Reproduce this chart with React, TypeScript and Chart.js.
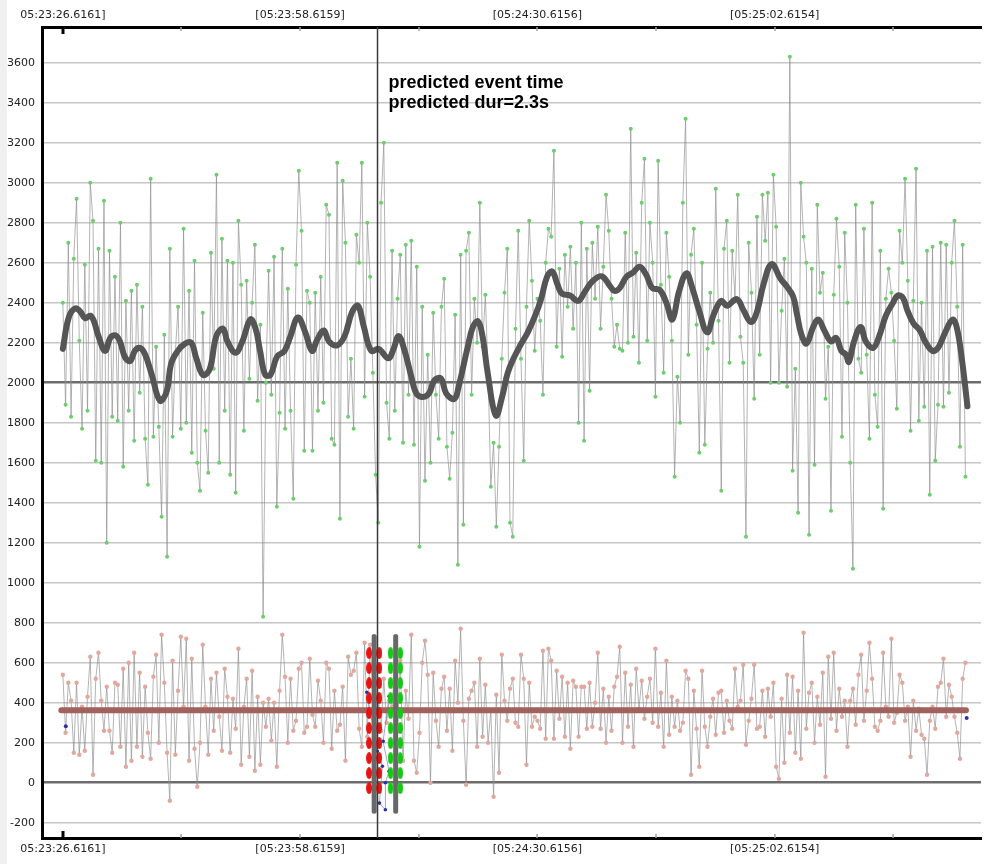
import { useEffect, useRef } from "react";
import { Chart, registerables } from "chart.js";

Chart.register(...registerables);

// seconds between two samples of the noisy series
const sampleStep = 0.37;

const xLabelSeconds = [0, 32, 64, 96];
const xLabels = ["05:23:26.6161]", "[05:23:58.6159]", "[05:24:30.6156]", "[05:25:02.6154]"];
const minorTickSeconds = [0, 16, 32, 48, 64, 80, 96, 112];

const greenValues = [
  2400, 1890, 2700, 1830, 2620, 2920, 2210, 1770, 2590, 1860,
  3000, 2810, 1610, 2670, 1600, 2910, 1200, 2660, 1830, 2530,
  1810, 2800, 1580, 2410, 1860, 2460, 1710, 2490, 1950, 2380,
  1720, 1490, 3020, 1730, 2180, 1780, 1330, 2240, 1130, 2670,
  1730, 2150, 2380, 1770, 2770, 1800, 2460, 1650, 2610, 1600,
  1460, 2350, 1760, 1550, 2650, 2070, 3040, 1600, 2720, 1860,
  2610, 1540, 2600, 1450, 2810, 2490, 1760, 2510, 2020, 2400,
  2690, 1910, 2290, 830, 2000, 2560, 1940, 2630, 1380, 1850,
  2670, 1770, 2470, 1860, 1420, 2590, 3060, 2760, 1660, 2460,
  2400, 1660, 2450, 1860, 2530, 1900, 2890, 2840, 1720, 1690,
  3100, 1320, 3010, 2700, 1830, 2120, 1770, 2740, 2600, 3100,
  1930, 2800, 2530, 2050, 1540, 1300, 2900, 3200, 1900, 1720,
  2660, 1860, 2420, 2640, 1700, 2690, 1940, 2710, 1690, 2580,
  1180, 2380, 1510, 2140, 1600, 2350, 1940, 1720, 2380, 2520,
  1680, 1520, 1750, 2340, 1090, 2640, 1290, 2660, 2750, 1940,
  2420, 2200, 2900, 2180, 2440, 2050, 1480, 1700, 1280, 1680,
  2120, 2450, 2670, 1300, 1230, 2270, 2760, 2120, 1610, 2380,
  2810, 2510, 2160, 2420, 2310, 1940, 2600, 2770, 2730, 3160,
  2180, 2570, 2130, 2640, 2380, 2680, 2270, 2600, 1800, 2800,
  1710, 2670, 1960, 2700, 2420, 2780, 2270, 2580, 2940, 2760,
  2420, 2180, 2290, 2170, 2160, 2750, 2200, 3270, 2230, 2650,
  2100, 2900, 3120, 2210, 2800, 2600, 1930, 3110, 2490, 2050,
  2750, 2530, 2210, 1530, 2030, 1800, 2900, 3320, 2140, 2640,
  2770, 2290, 1650, 2600, 1690, 2170, 2450, 2200, 2970, 2310,
  1460, 2670, 2810, 2100, 2660, 2420, 2940, 2230, 2100, 1230,
  2700, 2450, 1920, 2830, 2140, 2940, 2710, 2950, 2000, 3040,
  2780, 2000, 2360, 2620, 1980, 3630, 1560, 2070, 1350, 3000,
  2730, 2600, 1240, 2570, 1590, 2890, 2450, 2550, 1920, 2180,
  1360, 2440, 2820, 2580, 1730, 2750, 2400, 1600, 1070, 2890,
  2120, 2050, 2770, 2140, 1720, 2900, 1940, 1780, 2660, 1370,
  2420, 2570, 2450, 2210, 1870, 2760, 2600, 3020, 2510, 1760,
  2410, 3070, 1810, 2400, 1880, 2660, 1440, 2680, 1610, 1890,
  2700, 1880, 2690, 1950, 2600, 2810, 2380, 1680, 2690, 1530,
];

const pinkValues = [
  540, 250, 500, 410, 150, 500, 140, 380, 160, 430,
  630, 40, 520, 650, 410, 260, 480, 260, 150, 500,
  490, 180, 570, 80, 600, 110, 650, 180, 550, 130,
  480, 250, 120, 530, 640, 200, 740, 500, 150, -90,
  610, 140, 460, 730, 380, 720, 110, 620, 170, -20,
  200, 690, 380, 140, 520, 260, 550, 330, 160, 570,
  430, 150, 420, 270, 670, 90, 380, 520, 130, 560,
  60, 430, 90, 400, 280, 420, 210, 400, 80, 460,
  740, 530, 200, 520, 260, 310, 570, 600, 250, 280,
  620, 340, 280, 510, 410, 200, 600, 570, 170, 460,
  260, 290, 480, 110, 630, 540, 560, 650, 270, 180,
  700, 230, 690, 480, 170, 420, 260, 520, 300, 410,
  380, 580, 260, 610, 110, 460, 320, 740, 110, 50,
  250, 600, 710, 540, 0, 550, 310, 180, 470, 530,
  260, 470, 160, 610, 400, 770, 310, -10, 420, 460,
  500, 180, 620, 230, 490, 200, 360, -70, 440, 50,
  640, 410, 310, 470, 520, 300, 280, 640, 520, 90,
  500, 280, 330, 310, 270, 660, 220, 670, 610, 220,
  560, 320, 530, 230, 500, 170, 510, 480, 230, 480,
  480, 270, 500, 280, 400, 650, 270, 470, 200, 430,
  260, 480, 530, 680, 200, 550, 280, 490, 180, 570,
  370, 510, 320, 430, 520, 300, 670, 280, 450, 180,
  610, 240, 430, 280, 410, 260, 300, 560, 520, 40,
  460, 270, 80, 560, 280, 180, 330, 420, 240, 450,
  460, 250, 410, 310, 270, 570, 380, 410, 590, 190,
  310, 420, 590, 270, 280, 460, 230, 470, 330, 500,
  80, 20, 420, 100, 540, 250, 530, 150, 460, 120,
  750, 270, 450, 500, 200, 430, 290, 550, 30, 630,
  320, 650, 260, 470, 330, 410, 180, 410, 470, 290,
  540, 640, 310, 460, 700, 520, 280, 260, 310, 650,
  380, 330, 720, 300, 350, 540, 500, 310, 380, 130,
  410, 260, 370, 240, 220, 40, 310, 380, 270, 480,
  500, 620, 330, 490, 430, 330, 250, 120, 520, 600,
];

// moving average, read at irregular times
const smoothT = [
  0, 0.8, 1.7, 2.4, 3.0, 3.7, 4.2, 4.8, 5.7, 6.4, 7.1, 7.7, 8.4, 9.1, 9.7, 10.4,
  11.1, 12.0, 13.1, 14.0, 14.6, 15.5, 16.4, 17.3, 18.0, 18.9, 19.8, 20.7, 21.6,
  22.2, 23.3, 24.2, 25.3, 26.0, 26.6, 27.3, 28.0, 28.9, 29.9, 30.7, 31.7, 32.7,
  33.6, 34.3, 35.2, 35.9, 37.0, 38.0, 39.0, 39.8, 40.6, 41.6, 42.6, 43.9, 44.6,
  45.3, 46.1, 47.0, 47.7, 48.6, 49.4, 50.1, 51.0, 51.7, 52.8, 53.4, 54.6, 55.3,
  56.0, 56.6, 57.3, 58.4, 59.3, 60.0, 60.8, 61.7, 62.7, 63.7, 64.5, 65.3, 66.0,
  66.7, 67.3, 68.4, 69.5, 70.4, 71.5, 72.7, 73.8, 74.4, 75.1, 76.0, 76.9, 77.8,
  78.7, 79.5, 80.5, 81.4, 82.2, 83.1, 84.1, 84.9, 85.8, 86.9, 87.8, 88.8, 89.6,
  90.9, 91.8, 92.8, 93.6, 94.5, 95.6, 96.8, 97.6, 98.5, 99.0, 99.6, 100.3, 101.2,
  101.9, 102.7, 103.6, 104.3, 105.0, 105.6, 106.0, 106.7, 107.6, 108.3, 109.3,
  110.1, 111.0, 111.9, 112.6, 113.3, 113.9, 114.7, 115.6, 116.3, 117.3, 118.1,
  119.0, 120.0, 120.6, 121.3, 122.0,
];
const smoothV = [
  2169, 2326, 2372, 2353, 2322, 2335, 2307, 2233, 2159, 2224, 2237, 2206, 2126, 2108, 2159, 2174,
  2141, 2039, 1910, 1956, 2095, 2159, 2193, 2200, 2122, 2039, 2067, 2233, 2270,
  2206, 2150, 2206, 2316, 2270, 2159, 2039, 2039, 2131, 2159, 2233, 2326, 2252,
  2159, 2215, 2261, 2206, 2187, 2233, 2353, 2385, 2279, 2159, 2169, 2122, 2169,
  2233, 2159, 2030, 1945, 1929, 1947, 2011, 2021, 1947, 1919, 1984, 2178, 2279,
  2307, 2233, 2049, 1836, 1938, 2049, 2122, 2187, 2252, 2335, 2418, 2529, 2556,
  2492, 2446, 2436, 2409, 2455, 2510, 2532, 2483, 2459, 2473, 2529, 2551, 2580,
  2538, 2473, 2464, 2399, 2316, 2455, 2547, 2473, 2362, 2252, 2344, 2409, 2385,
  2418, 2362, 2303, 2353, 2492, 2593, 2519, 2483, 2430, 2344, 2242, 2196, 2279,
  2316, 2261, 2206, 2224, 2159, 2141, 2104, 2206, 2279, 2206, 2174,
  2233, 2335, 2396, 2436, 2424, 2362, 2298, 2261, 2206, 2159, 2178,
  2252, 2316, 2270, 2104, 1882,
];

const pinkMeanT = [-0.2, 121.8];
const pinkMeanV = [362, 362];

const blueEdgeT = [0.4, 121.9];
const blueEdgeV = [282, 323];
const blueT = [41.0, 42.4, 42.7, 43.1, 42.7, 43.5, 43.5, 44.0, 43.2, 44.0];
const blueV = [452, 157, 123, 82, -102, -135, 0, 57, 207, 432];

const eventTime = 42.44;
const annotationLines = ["predicted event time", "predicted dur=2.3s"];
const annotationValues = [3500, 3400];

const redLineT = 41.99;
const redOvalT = [41.3, 42.68];
const greenLineT = 44.89;
const greenOvalT = [44.2, 45.5];
const markerRange = [-143, 731];
const ovalValues = [-27, 48, 123, 198, 273, 348, 423, 498, 573, 648];

const yMin = -276.5;
const yMax = 3778.5;
const xMin = -2.81;
const xMax = 123.83;

const FONT = '"DejaVu Sans", Verdana, sans-serif';

function makeOval(color: string) {
  const c = document.createElement("canvas");
  c.width = 6;
  c.height = 12;
  const g = c.getContext("2d")!;
  g.fillStyle = color;
  g.beginPath();
  g.ellipse(3, 6, 3, 6, 0, 0, Math.PI * 2);
  g.fill();
  return c;
}

function App() {
  const canvasRef = useRef<HTMLCanvasElement | null>(null);

  useEffect(() => {
    document.body.style.margin = "0";
    const canvas = canvasRef.current;
    if (!canvas) return;

    const redOval = makeOval("rgb(232,18,18)");
    const greenOval = makeOval("rgb(22,200,22)");

    const ovalPoints = (times: number[]) =>
      times.flatMap((t) => ovalValues.map((v) => ({ x: t, y: v })));

    const pageBackground = {
      id: "pageBackground",
      beforeDraw(chart: Chart) {
        const { ctx, width, height } = chart;
        ctx.save();
        ctx.fillStyle = "#ffffff";
        ctx.fillRect(0, 0, width, height);
        ctx.fillStyle = "#f0f0f0";
        ctx.fillRect(0, 0, 7, height);
        ctx.restore();
      },
    };

    const overlay = {
      id: "overlay",
      afterDatasetsDraw(chart: Chart) {
        const { ctx, chartArea } = chart;
        const xs = chart.scales.x;
        const ys = chart.scales.y;
        ctx.save();
        // inward tick marks on top and bottom borders
        minorTickSeconds.forEach((t) => {
          const px = Math.round(xs.getPixelForValue(t));
          const major = t === 0;
          ctx.strokeStyle = major ? "#000" : "#a0a0a0";
          ctx.lineWidth = major ? 3 : 1.5;
          const len = major ? 7 : 4;
          ctx.beginPath();
          ctx.moveTo(px, chartArea.top);
          ctx.lineTo(px, chartArea.top + len);
          ctx.moveTo(px, chartArea.bottom);
          ctx.lineTo(px, chartArea.bottom - len);
          ctx.stroke();
        });
        // annotation
        ctx.fillStyle = "#000";
        ctx.font = 'bold 18px "Liberation Sans", Arial, sans-serif';
        ctx.textBaseline = "middle";
        ctx.textAlign = "left";
        const tx = xs.getPixelForValue(eventTime) + 11;
        annotationLines.forEach((line, i) => {
          ctx.fillText(line, tx, ys.getPixelForValue(annotationValues[i]));
        });
        ctx.restore();
      },
    };

    const xTicks = {
      autoSkip: false,
      maxRotation: 0,
      padding: 5,
      color: "#222",
      font: { family: FONT, size: 11 },
      callback: (_v: any, i: number) => xLabels[i],
    };

    const chart = new Chart(canvas, {
      type: "line",
      data: {
        datasets: [
          {
            label: "event",
            data: [
              { x: eventTime, y: yMin },
              { x: eventTime, y: yMax },
            ],
            borderColor: "#3a3a3a",
            borderWidth: 1.5,
            pointRadius: 0,
          },
          {
            label: "red marks",
            data: ovalPoints(redOvalT),
            showLine: false,
            pointStyle: redOval,
            pointRadius: 6,
          },
          {
            label: "green marks",
            data: ovalPoints(greenOvalT),
            showLine: false,
            pointStyle: greenOval,
            pointRadius: 6,
          },
          {
            label: "red line",
            data: markerRange.map((v) => ({ x: redLineT, y: v })),
            borderColor: "#686868",
            borderWidth: 5,
            borderCapStyle: "round",
            pointRadius: 0,
          },
          {
            label: "green line",
            data: markerRange.map((v) => ({ x: greenLineT, y: v })),
            borderColor: "#686868",
            borderWidth: 5,
            borderCapStyle: "round",
            pointRadius: 0,
          },
          {
            label: "pink mean",
            data: pinkMeanT.map((t, i) => ({ x: t, y: pinkMeanV[i] })),
            borderColor: "rgb(160,98,92)",
            borderWidth: 6,
            borderCapStyle: "round",
            pointRadius: 0,
          },
          {
            label: "smooth",
            data: smoothT.map((t, i) => ({ x: t, y: smoothV[i] })),
            borderColor: "#555555",
            borderWidth: 6,
            borderCapStyle: "round",
            borderJoinStyle: "round",
            tension: 0.4,
            pointRadius: 0,
          },
          {
            label: "blue",
            data: blueT.map((t, i) => ({ x: t, y: blueV[i] })),
            borderColor: "rgba(120,130,190,0.7)",
            borderWidth: 1,
            pointRadius: 1.8,
            pointBorderWidth: 0,
            pointBackgroundColor: "rgb(40,50,160)",
          },
          {
            label: "blue edge",
            data: blueEdgeT.map((t, i) => ({ x: t, y: blueEdgeV[i] })),
            showLine: false,
            pointRadius: 2,
            pointBorderWidth: 0,
            pointBackgroundColor: "rgb(40,50,160)",
          },
          {
            label: "pink",
            data: pinkValues.map((v, i) => ({ x: i * sampleStep, y: v })),
            borderColor: "rgba(140,140,140,0.65)",
            borderWidth: 1,
            pointRadius: 2.2,
            pointBorderWidth: 0,
            pointBackgroundColor: "rgb(224,168,158)",
          },
          {
            label: "green",
            data: greenValues.map((v, i) => ({ x: i * sampleStep, y: v })),
            borderColor: "rgba(140,140,140,0.65)",
            borderWidth: 1,
            pointRadius: 2,
            pointBorderWidth: 0,
            pointBackgroundColor: "rgb(110,205,110)",
          },
        ],
      },
      options: {
        animation: false,
        responsive: true,
        maintainAspectRatio: false,
        parsing: false,
        layout: { padding: 0 },
        plugins: {
          legend: { display: false },
          tooltip: { enabled: false },
        },
        scales: {
          x: {
            type: "linear",
            position: "bottom",
            min: xMin,
            max: xMax,
            grid: { display: false, drawTicks: false },
            border: { color: "#000", width: 3 },
            afterBuildTicks: (s: any) => {
              s.ticks = xLabelSeconds.map((v) => ({ value: v }));
            },
            afterFit: (s: any) => {
              s.height = 26;
            },
            ticks: xTicks,
          },
          x2: {
            type: "linear",
            position: "top",
            min: xMin,
            max: xMax,
            grid: { display: false, drawTicks: false },
            border: { color: "#000", width: 3 },
            afterBuildTicks: (s: any) => {
              s.ticks = xLabelSeconds.map((v) => ({ value: v }));
            },
            afterFit: (s: any) => {
              s.height = 27;
            },
            ticks: xTicks,
          },
          y: {
            type: "linear",
            min: yMin,
            max: yMax,
            afterBuildTicks: (s: any) => {
              s.ticks = s.ticks.filter((t: any) => t.value % 200 === 0);
            },
            afterFit: (s: any) => {
              s.width = 42;
            },
            border: { color: "#000", width: 3 },
            grid: {
              drawTicks: false,
              color: (c: any) =>
                c.tick && (c.tick.value === 0 || c.tick.value === 2000) ? "#6c6c6c" : "#c6c6c6",
              lineWidth: (c: any) =>
                c.tick && (c.tick.value === 0 || c.tick.value === 2000) ? 2.5 : 1.5,
            },
            ticks: {
              stepSize: 200,
              padding: 7,
              color: "#222",
              font: { family: FONT, size: 11 },
              callback: (v: any) => String(v),
            },
          },
        },
      },
      plugins: [pageBackground, overlay],
    } as any);

    return () => {
      chart.destroy();
    };
  }, []);

  return (
    <div style={{ position: "relative", width: 988, height: 864 }}>
      <canvas ref={canvasRef} />
    </div>
  );
}

export default App;
